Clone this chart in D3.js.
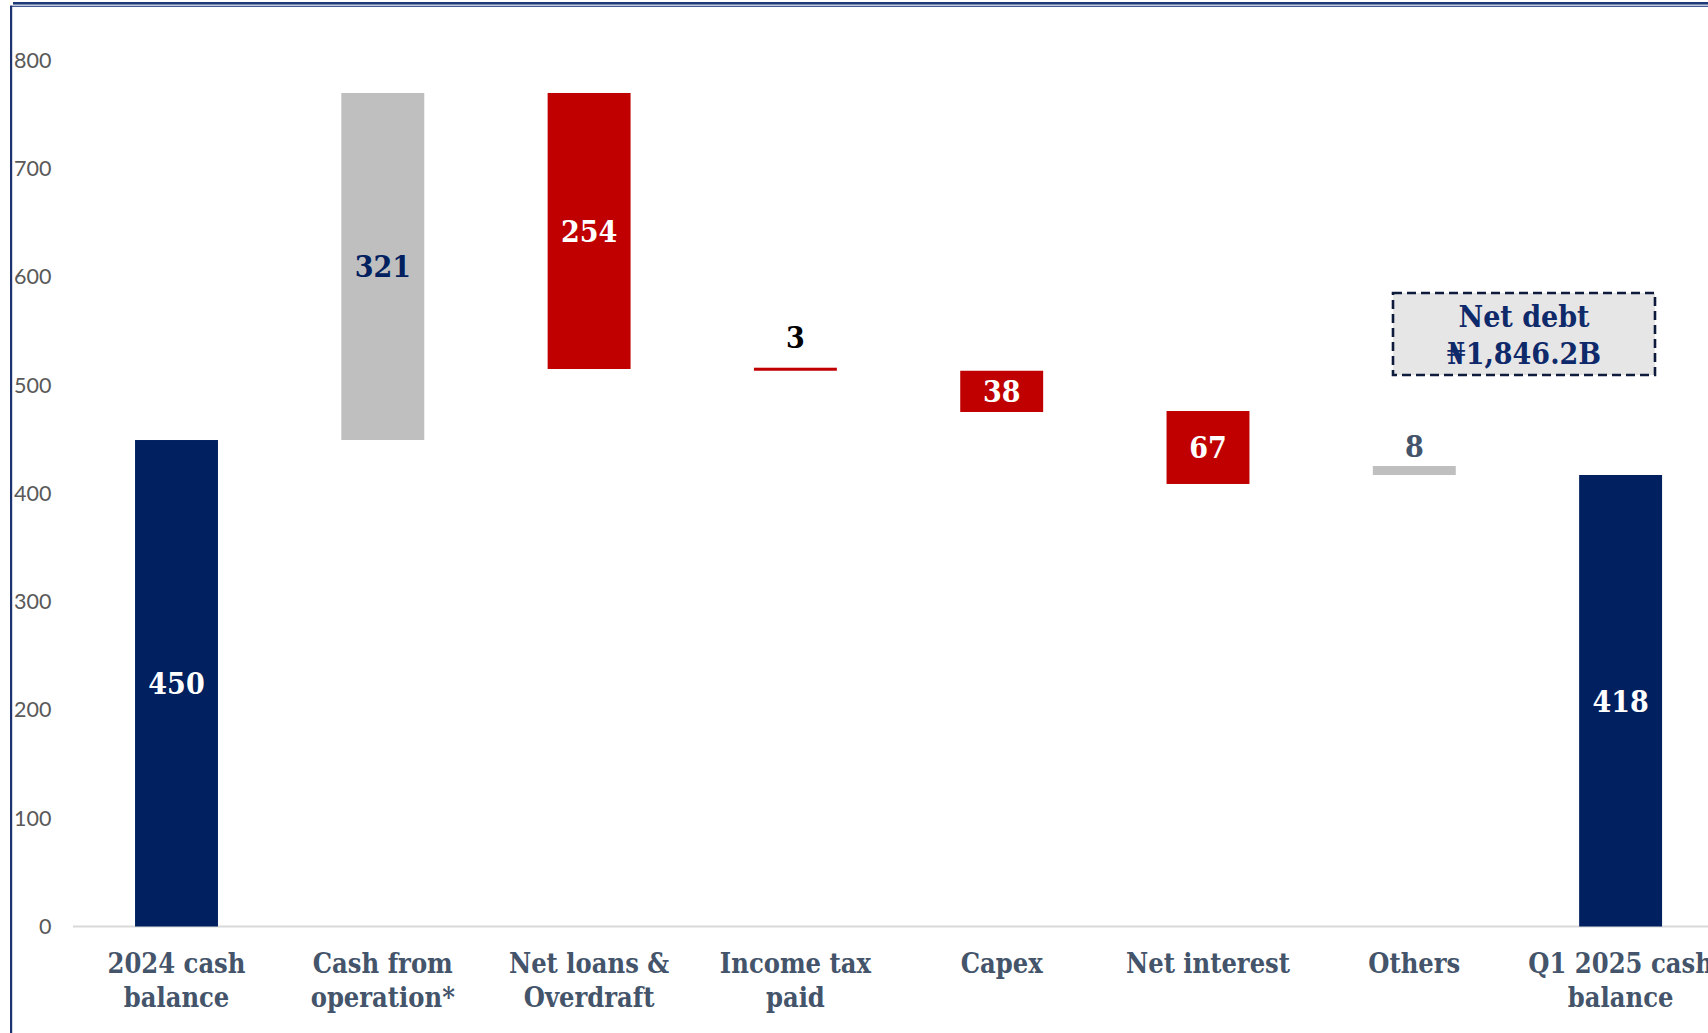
<!DOCTYPE html>
<html>
<head>
<meta charset="utf-8">
<script src="https://cdn.jsdelivr.net/npm/d3@7"></script>
<style>
  html, body { margin: 0; padding: 0; background: #ffffff; overflow: hidden; }
  svg { display: block; }
  .serif { font-family: 'DejaVu Serif Condensed', 'DejaVu Serif', serif; font-stretch: condensed; font-weight: bold; }
</style>
</head>
<body>
<svg id="chart" width="1708" height="1033"></svg>
<script>
// ---- data ----
const categories = ["2024 cash|balance", "Cash from|operation*", "Net loans &|Overdraft", "Income tax|paid", "Capex", "Net interest", "Others", "Q1 2025 cash|balance"];
const barLow  = [0,     449.4, 515.0, 513.4, 475.3, 408.8, 417.1, 0];
const barHigh = [449.4, 770.0, 770.0, 516.2, 513.4, 476.2, 425.4, 417.1];
const labelValues = [450, 321, 254, 3, 38, 67, 8, 418];
const barKinds = ["total", "increase", "decrease", "decrease", "decrease", "decrease", "other", "total"];
const yTicks = [0, 100, 200, 300, 400, 500, 600, 700, 800];
const annotationLines = ["Net debt", "\u20A61,846.2B"];

// ---- styles ----
const fillFor = { total: "#002060", increase: "#BFBFBF", decrease: "#C00000", other: "#BFBFBF" };
const labelStyle = [
  { pos: "in", color: "#ffffff" },
  { pos: "in", color: "#002060" },
  { pos: "in", color: "#ffffff" },
  { pos: "above", off: 31, color: "#000000" },
  { pos: "in", color: "#ffffff" },
  { pos: "in", color: "#ffffff" },
  { pos: "above", off: 20, color: "#44546A" },
  { pos: "in", color: "#ffffff" }
];

const svg = d3.select("#chart");

const x = d3.scaleBand()
  .domain(d3.range(categories.length))
  .range([73.35, 1723.75])
  .paddingInner(0.598)
  .paddingOuter(0.299);

const y = d3.scaleLinear().domain([0, 800]).range([926.5, 60.5]);

// frame
svg.append("rect").attr("x", 13).attr("y", 2).attr("width", 1708).attr("height", 2.6).attr("fill", "#1F3A78");
svg.append("rect").attr("x", 10).attr("y", 5.7).attr("width", 1708).attr("height", 1.2).attr("fill", "#2E4A8A");
svg.append("rect").attr("x", 10).attr("y", 5.7).attr("width", 2.2).attr("height", 1040).attr("fill", "#1B3370");

// y axis labels
const yAxis = d3.axisLeft(y).tickValues(yTicks).tickSize(0).tickPadding(0);
const gy = svg.append("g").attr("transform", "translate(51.5,-1)").call(yAxis);
gy.select(".domain").remove();
gy.selectAll("text")
  .attr("font-family", "Lato, 'Open Sans', sans-serif")
  .attr("font-size", 21.5)
  .attr("fill", "#595959")
  .attr("dy", "0.36em");

// baseline
svg.append("line")
  .attr("x1", 73).attr("x2", 1708)
  .attr("y1", y(0)).attr("y2", y(0))
  .attr("stroke", "#D9D9D9").attr("stroke-width", 2);

// bars
svg.append("g").selectAll("rect")
  .data(d3.range(categories.length))
  .join("rect")
  .attr("x", i => x(i))
  .attr("width", x.bandwidth())
  .attr("y", i => y(barHigh[i]))
  .attr("height", i => y(barLow[i]) - y(barHigh[i]))
  .attr("fill", i => fillFor[barKinds[i]]);

// data labels
svg.append("g").selectAll("text")
  .data(d3.range(categories.length))
  .join("text")
  .attr("class", "serif")
  .attr("font-size", 30)
  .attr("text-anchor", "middle")
  .attr("x", i => x(i) + x.bandwidth() / 2)
  .attr("y", i => labelStyle[i].pos === "in"
      ? (y(barHigh[i]) + y(barLow[i])) / 2
      : y(barHigh[i]) - labelStyle[i].off)
  .attr("dy", "0.36em")
  .attr("fill", i => labelStyle[i].color)
  .text(i => labelValues[i]);

// x axis labels
const xl = svg.append("g").selectAll("text")
  .data(d3.range(categories.length))
  .join("text")
  .attr("class", "serif")
  .attr("font-size", 27)
  .attr("fill", "#44546A")
  .attr("text-anchor", "middle")
  .attr("x", i => x(i) + x.bandwidth() / 2)
  .attr("y", 973);
xl.each(function(i) {
  const lines = categories[i].split("|");
  d3.select(this).selectAll("tspan").data(lines).join("tspan")
    .attr("x", x(i) + x.bandwidth() / 2)
    .attr("dy", (d, k) => k === 0 ? 0 : 34)
    .text(d => d);
});

// annotation box
const ann = svg.append("g");
ann.append("rect")
  .attr("x", 1393).attr("y", 293).attr("width", 262).attr("height", 82)
  .attr("fill", "#E7E6E6")
  .attr("stroke", "#0E1B3C").attr("stroke-width", 2.6)
  .attr("stroke-dasharray", "9,5");
ann.selectAll("text").data(annotationLines).join("text")
  .attr("class", "serif")
  .attr("font-size", 30)
  .attr("fill", "#0F2A6A")
  .attr("text-anchor", "middle")
  .attr("x", 1524)
  .attr("y", (d, k) => 327 + k * 37)
  .text(d => d);
</script>
</body>
</html>
